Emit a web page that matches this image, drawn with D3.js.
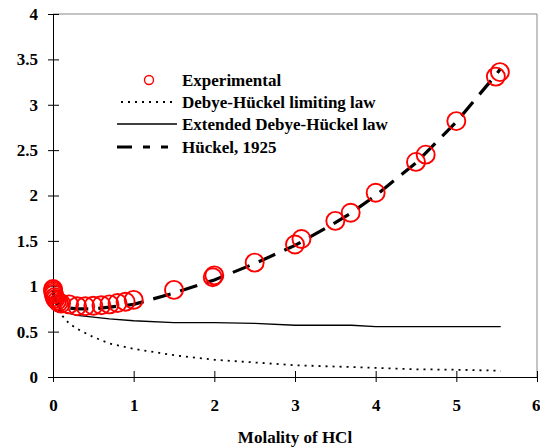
<!DOCTYPE html>
<html>
<head>
  <meta charset="utf-8">
  <title>Activity coefficient of HCl</title>
  <script src="https://d3js.org/d3.v7.min.js"></script>
  <style>
    body { margin: 0; background: #fff; }
    text { font-family: "Liberation Serif", "Times New Roman", serif; font-weight: bold; fill: #000; }
  </style>
</head>
<body>
  <svg width="540" height="448"></svg>
  <script>
    // experimental points (molality, gamma)
    const expM = [0.001, 0.002, 0.005, 0.01, 0.02, 0.03, 0.05, 0.07, 0.1, 0.2, 0.3, 0.4, 0.5, 0.6, 0.7, 0.8, 0.9, 1.0,
                  1.5, 1.98, 2.0, 2.5, 3.0, 3.08, 3.5, 3.69, 4.0, 4.5, 4.62, 5.0, 5.49, 5.54];
    const expG = [0.97, 0.95, 0.93, 0.91, 0.88, 0.86, 0.84, 0.82, 0.81, 0.80, 0.78, 0.78, 0.785, 0.79, 0.80, 0.815, 0.83, 0.85,
                  0.96, 1.10, 1.12, 1.26, 1.46, 1.52, 1.72, 1.81, 2.03, 2.37, 2.45, 2.82, 3.31, 3.36];

    // model curves
    const lineM = [0.001, 0.01, 0.05, 0.1, 0.2, 0.3, 0.5, 0.7, 1.0, 1.5, 2.0, 2.5, 3.0, 3.5, 3.7, 4.0, 4.5, 5.0, 5.5, 5.55];
    const limitG = [0.96, 0.89, 0.77, 0.69, 0.59, 0.53, 0.44, 0.37, 0.31, 0.24, 0.19, 0.16, 0.13, 0.115, 0.11, 0.10, 0.085, 0.08, 0.07, 0.065];
    const extendG = [0.96, 0.89, 0.79, 0.73, 0.70, 0.68, 0.66, 0.64, 0.62, 0.60, 0.60, 0.59, 0.57, 0.57, 0.57, 0.555, 0.555, 0.555, 0.555, 0.555];
    const huckelG = [0.96, 0.90, 0.82, 0.79, 0.76, 0.75, 0.75, 0.77, 0.80, 0.925, 1.07, 1.25, 1.45, 1.70, 1.81, 2.0, 2.36, 2.81, 3.34, 3.40];

    const xTicks = [0, 1, 2, 3, 4, 5, 6];
    const yTicks = [0, 0.5, 1, 1.5, 2, 2.5, 3, 3.5, 4];

    const svg = d3.select('svg');
    const mLeft = 53, mRight = 537, mTop = 14, mBottom = 377;

    const x = d3.scaleLinear().domain([0, 6]).range([mLeft, mRight]);
    const y = d3.scaleLinear().domain([0, 4]).range([mBottom, mTop]);

    // frame
    svg.append('path')
      .attr('d', `M${mLeft},${mTop}H${mRight}V${mBottom}`)
      .attr('fill', 'none').attr('stroke', '#888').attr('stroke-width', 1);

    // axes
    const yAxis = svg.append('g')
      .attr('transform', `translate(${mLeft},0)`)
      .call(d3.axisLeft(y).tickValues(yTicks).tickSize(5).tickPadding(10).tickFormat(d3.format('')));
    yAxis.selectAll('.tick line').attr('x2', 6).attr('x1', -5);
    const xAxis = svg.append('g')
      .attr('transform', `translate(0,${mBottom})`)
      .call(d3.axisBottom(x).tickValues(xTicks).tickSize(5).tickPadding(17).tickFormat(d3.format('d')));
    xAxis.selectAll('.tick line').attr('y1', -6).attr('y2', 5);
    // last label sits at the window edge; keep it inside
    xAxis.selectAll('.tick text').filter((d) => d === 6).attr('text-anchor', 'end').attr('x', 3);
    svg.selectAll('.domain').attr('stroke', '#000');
    svg.selectAll('.tick line').attr('stroke', '#000');
    svg.selectAll('.tick text')
      .attr('font-size', 17).attr('font-family', '"Liberation Serif", serif').attr('font-weight', 'bold');

    svg.append('text')
      .attr('x', (mLeft + mRight) / 2).attr('y', 443)
      .attr('text-anchor', 'middle').attr('font-size', 17)
      .text('Molality of HCl');

    // curves
    const line = (g) => d3.line().x((d, i) => x(lineM[i])).y((d) => y(d))(g);

    svg.append('path').attr('d', line(limitG))
      .attr('fill', 'none').attr('stroke', '#000').attr('stroke-width', 1.8).attr('stroke-dasharray', '2,5');
    svg.append('path').attr('d', line(extendG))
      .attr('fill', 'none').attr('stroke', '#000').attr('stroke-width', 1.3);
    svg.append('path').attr('d', line(huckelG))
      .attr('fill', 'none').attr('stroke', '#000').attr('stroke-width', 3.2).attr('stroke-dasharray', '18,10');

    // experimental circles
    svg.append('g').selectAll('circle')
      .data(expM)
      .join('circle')
        .attr('cx', (d) => x(d))
        .attr('cy', (d, i) => y(expG[i]))
        .attr('r', 9)
        .attr('fill', 'none').attr('stroke', '#f00').attr('stroke-width', 1.9);

    // legend
    const legend = svg.append('g');
    const rows = [
      { label: 'Experimental', y: 80 },
      { label: 'Debye-Hückel limiting law', y: 102 },
      { label: 'Extended Debye-Hückel law', y: 124 },
      { label: 'Hückel, 1925', y: 147 }
    ];
    legend.append('circle').attr('cx', 149).attr('cy', rows[0].y).attr('r', 4.5)
      .attr('fill', 'none').attr('stroke', '#f00').attr('stroke-width', 1.4);
    legend.append('line').attr('x1', 121).attr('x2', 177).attr('y1', rows[1].y).attr('y2', rows[1].y)
      .attr('stroke', '#000').attr('stroke-width', 1.8).attr('stroke-dasharray', '2,5');
    legend.append('line').attr('x1', 117).attr('x2', 177).attr('y1', rows[2].y).attr('y2', rows[2].y)
      .attr('stroke', '#000').attr('stroke-width', 1.3);
    legend.append('line').attr('x1', 117).attr('x2', 177).attr('y1', rows[3].y).attr('y2', rows[3].y)
      .attr('stroke', '#000').attr('stroke-width', 3.2).attr('stroke-dasharray', '15,11,7,11,7');
    legend.selectAll('text')
      .data(rows)
      .join('text')
        .attr('x', 182).attr('y', (d) => d.y + 6)
        .attr('font-size', 17)
        .text((d) => d.label);
  </script>
</body>
</html>
